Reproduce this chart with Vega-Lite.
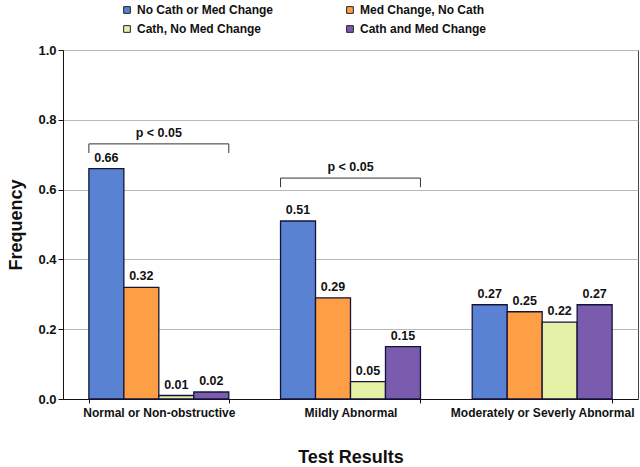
{
  "$schema": "https://vega.github.io/schema/vega-lite/v6.json",
  "autosize": "none",
  "width": 575,
  "height": 349,
  "padding": {"left": 63, "top": 50, "right": 2, "bottom": 68},
  "background": "white",
  "config": {
    "font": "Liberation Sans",
    "view": {"stroke": "#444", "strokeWidth": 1},
    "axis": {"labelFont": "Liberation Sans", "titleFont": "Liberation Sans", "labelFontWeight": "bold", "titleFontWeight": "bold", "labelColor": "#111", "titleColor": "#111", "domainColor": "#111", "tickColor": "#111"}
  },
  "datasets": {
    "bars": [
      {"group": "Normal or Non-obstructive", "series": "No Cath or Med Change", "value": 0.66},
      {"group": "Normal or Non-obstructive", "series": "Med Change, No Cath", "value": 0.32},
      {"group": "Normal or Non-obstructive", "series": "Cath, No Med Change", "value": 0.01},
      {"group": "Normal or Non-obstructive", "series": "Cath and Med Change", "value": 0.02},
      {"group": "Mildly Abnormal", "series": "No Cath or Med Change", "value": 0.51},
      {"group": "Mildly Abnormal", "series": "Med Change, No Cath", "value": 0.29},
      {"group": "Mildly Abnormal", "series": "Cath, No Med Change", "value": 0.05},
      {"group": "Mildly Abnormal", "series": "Cath and Med Change", "value": 0.15},
      {"group": "Moderately or Severly Abnormal", "series": "No Cath or Med Change", "value": 0.27},
      {"group": "Moderately or Severly Abnormal", "series": "Med Change, No Cath", "value": 0.25},
      {"group": "Moderately or Severly Abnormal", "series": "Cath, No Med Change", "value": 0.22},
      {"group": "Moderately or Severly Abnormal", "series": "Cath and Med Change", "value": 0.27}
    ],
    "brackets": [
      {"group": "Normal or Non-obstructive", "top": 0.731, "end": 0.705, "label": "p < 0.05"},
      {"group": "Mildly Abnormal", "top": 0.633, "end": 0.607, "label": "p < 0.05"}
    ]
  },
  "encoding": {
    "x": {
      "field": "group", "type": "nominal", "sort": null,
      "scale": {"paddingInner": 0.27, "paddingOuter": 0.135},
      "axis": {"title": "Test Results", "titleFontSize": 18, "titlePadding": 30, "labelFontSize": 12, "labelLimit": 0, "labelAngle": 0, "tickBand": "extent", "tickSize": 4, "labelPadding": 4}
    }
  },
  "layer": [
    {
      "data": {"name": "bars"},
      "mark": {"type": "bar", "stroke": "#14143a", "strokeWidth": 1.3},
      "encoding": {
        "xOffset": {"field": "series", "type": "nominal", "sort": null, "scale": {"paddingInner": 0, "paddingOuter": 0}},
        "y": {
          "field": "value", "type": "quantitative",
          "scale": {"domain": [0, 1], "nice": false},
          "axis": {
            "title": "Frequency", "titleFontSize": 18, "titlePadding": 12,
            "values": [0, 0.1, 0.2, 0.3, 0.4, 0.5, 0.6, 0.7, 0.8, 0.9, 1.0],
            "labelExpr": "round(datum.value*10) % 2 == 0 ? format(datum.value, '.1f') : ''",
            "labelFontSize": 13,
            "tickSize": 5,
            "gridColor": "#b8b8b8",
            "gridOpacity": {"condition": {"test": "round(datum.value*10) % 2 == 0", "value": 1}, "value": 0}
          }
        },
        "color": {
          "field": "series", "type": "nominal", "sort": null,
          "scale": {
            "domain": ["No Cath or Med Change", "Med Change, No Cath", "Cath, No Med Change", "Cath and Med Change"],
            "range": ["#5A82D2", "#FF9F45", "#E4F0A6", "#7A5BAE"]
          },
          "legend": {
            "orient": "none", "legendX": 58, "legendY": -46,
            "title": null, "columns": 2, "direction": "horizontal",
            "symbolType": "square", "symbolSize": 45, "symbolStrokeColor": "#222", "symbolStrokeWidth": 1,
            "labelFont": "Liberation Sans", "labelFontWeight": "bold", "labelFontSize": 12, "labelColor": "#111",
            "columnPadding": 70, "rowPadding": 7, "labelLimit": 200
          }
        }
      }
    },
    {
      "data": {"name": "bars"},
      "mark": {"type": "text", "baseline": "bottom", "dy": -4, "fontWeight": "bold", "fontSize": 12.5, "color": "#111"},
      "encoding": {
        "xOffset": {"field": "series", "type": "nominal", "sort": null},
        "y": {"field": "value", "type": "quantitative"},
        "text": {"field": "value", "type": "quantitative", "format": ".2f"}
      }
    },
    {
      "data": {"name": "brackets"},
      "mark": {"type": "rule", "color": "#333", "strokeWidth": 1},
      "encoding": {
        "x": {"field": "group", "type": "nominal", "sort": null, "bandPosition": 0},
        "x2": {"field": "group", "bandPosition": 1},
        "y": {"field": "top", "type": "quantitative"}
      }
    },
    {
      "data": {"name": "brackets"},
      "mark": {"type": "rule", "color": "#333", "strokeWidth": 1},
      "encoding": {
        "x": {"field": "group", "type": "nominal", "sort": null, "bandPosition": 0},
        "y": {"field": "top", "type": "quantitative"},
        "y2": {"field": "end"}
      }
    },
    {
      "data": {"name": "brackets"},
      "mark": {"type": "rule", "color": "#333", "strokeWidth": 1},
      "encoding": {
        "x": {"field": "group", "type": "nominal", "sort": null, "bandPosition": 1},
        "y": {"field": "top", "type": "quantitative"},
        "y2": {"field": "end"}
      }
    },
    {
      "data": {"name": "brackets"},
      "mark": {"type": "text", "baseline": "bottom", "dy": -4, "fontWeight": "bold", "fontSize": 12.5, "color": "#111"},
      "encoding": {
        "y": {"field": "top", "type": "quantitative"},
        "text": {"field": "label"}
      }
    }
  ]
}
